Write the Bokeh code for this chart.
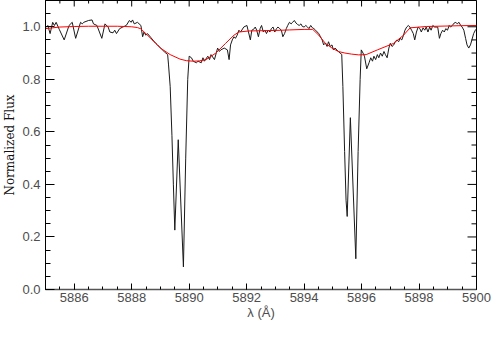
import math
from bokeh.plotting import figure
from bokeh.models import Range1d, FixedTicker, PrintfTickFormatter
from bokeh.embed import file_html
from bokeh.resources import INLINE

# Observed spectrum (wavelength in Angstrom, normalized flux)
wave = [5885.00, 5885.08, 5885.16, 5885.25, 5885.31, 5885.37, 5885.48, 5885.65, 5885.82, 5885.93,
        5886.05, 5886.22, 5886.28, 5886.33, 5886.50, 5886.62, 5886.67, 5886.79, 5886.96, 5887.07,
        5887.18, 5887.24, 5887.35, 5887.41, 5887.47, 5887.58, 5887.69, 5887.81, 5887.92, 5887.98,
        5888.03, 5888.09, 5888.20, 5888.32, 5888.38, 5888.43, 5888.49, 5888.55, 5888.66, 5888.77,
        5888.89, 5889.06, 5889.17, 5889.25, 5889.28, 5889.34, 5889.40, 5889.45, 5889.50, 5889.62,
        5889.80, 5889.88, 5889.95, 5890.00, 5890.08, 5890.14, 5890.25, 5890.31, 5890.42, 5890.48,
        5890.53, 5890.65, 5890.71, 5890.76, 5890.88, 5890.99, 5891.05, 5891.10, 5891.22, 5891.33,
        5891.39, 5891.44, 5891.50, 5891.56, 5891.61, 5891.67, 5891.73, 5891.79, 5891.90, 5892.01,
        5892.13, 5892.18, 5892.24, 5892.30, 5892.35, 5892.41, 5892.47, 5892.52, 5892.58, 5892.64,
        5892.69, 5892.75, 5892.81, 5892.86, 5892.92, 5892.98, 5893.04, 5893.09, 5893.15, 5893.21,
        5893.26, 5893.32, 5893.38, 5893.43, 5893.49, 5893.55, 5893.60, 5893.66, 5893.72, 5893.77,
        5893.83, 5893.89, 5893.94, 5894.00, 5894.06, 5894.12, 5894.17, 5894.23, 5894.29, 5894.34,
        5894.40, 5894.46, 5894.51, 5894.57, 5894.63, 5894.68, 5894.74, 5894.80, 5894.85, 5894.91,
        5894.97, 5895.02, 5895.08, 5895.14, 5895.19, 5895.25, 5895.31, 5895.35, 5895.41, 5895.46,
        5895.50, 5895.61, 5895.80, 5895.88, 5895.95, 5895.99, 5896.05, 5896.10, 5896.18, 5896.26,
        5896.32, 5896.38, 5896.43, 5896.49, 5896.55, 5896.60, 5896.66, 5896.72, 5896.78, 5896.83,
        5896.89, 5896.95, 5897.00, 5897.06, 5897.12, 5897.17, 5897.23, 5897.29, 5897.34, 5897.40,
        5897.46, 5897.51, 5897.57, 5897.63, 5897.68, 5897.74, 5897.80, 5897.85, 5897.91, 5897.97,
        5898.03, 5898.08, 5898.14, 5898.20, 5898.25, 5898.31, 5898.37, 5898.42, 5898.48, 5898.54,
        5898.59, 5898.65, 5898.71, 5898.76, 5898.82, 5898.88, 5898.93, 5898.99, 5899.05, 5899.10,
        5899.16, 5899.22, 5899.28, 5899.33, 5899.39, 5899.45, 5899.50, 5899.56, 5899.62, 5899.67,
        5899.73, 5899.79, 5899.84, 5899.90, 5899.96, 5900.01]

flux = [0.996, 1.005, 0.974, 1.017, 1.005, 1.017, 0.990, 0.950, 1.005, 1.017,
        0.956, 1.017, 1.011, 1.017, 1.024, 1.026, 1.011, 1.005, 0.956, 1.011,
        0.999, 0.980, 0.977, 0.987, 0.974, 0.993, 0.999, 1.005, 1.024, 1.017,
        1.026, 1.011, 1.017, 1.005, 0.962, 0.980, 0.968, 0.974, 0.960, 0.945,
        0.932, 0.913, 0.901, 0.895, 0.858, 0.772, 0.587, 0.401, 0.226, 0.570,
        0.086, 0.500, 0.800, 0.888, 0.882, 0.869, 0.863, 0.869, 0.863, 0.882,
        0.869, 0.888, 0.875, 0.894, 0.875, 0.919, 0.906, 0.912, 0.919, 0.912,
        0.875, 0.931, 0.950, 0.962, 0.956, 0.968, 0.987, 0.980, 0.999, 1.005,
        0.950, 0.987, 0.990, 0.999, 0.987, 0.962, 0.993, 1.005, 0.980, 0.987,
        0.974, 0.987, 0.980, 0.993, 0.999, 0.980, 0.993, 0.999, 0.993, 0.987,
        0.962, 0.974, 0.993, 1.005, 1.017, 1.011, 1.017, 1.024, 1.014, 1.009,
        1.005, 1.011, 1.001, 0.999, 1.005, 0.999, 0.993, 1.005, 0.996, 0.993,
        0.987, 0.980, 0.974, 0.962, 0.950, 0.931, 0.938, 0.925, 0.943, 0.925,
        0.931, 0.912, 0.919, 0.912, 0.906, 0.900, 0.895, 0.772, 0.525, 0.340,
        0.278, 0.654, 0.117, 0.525, 0.800, 0.912, 0.900, 0.888, 0.840, 0.863,
        0.882, 0.869, 0.888, 0.875, 0.894, 0.882, 0.900, 0.888, 0.906, 0.894,
        0.882, 0.919, 0.937, 0.925, 0.931, 0.943, 0.950, 0.943, 0.956, 0.950,
        0.968, 0.987, 0.999, 1.005, 0.999, 0.987, 0.974, 0.950, 0.980, 0.999,
        0.993, 0.980, 0.996, 0.987, 0.999, 0.980, 0.999, 0.987, 1.005, 0.999,
        0.999, 0.999, 0.956, 0.974, 0.987, 0.980, 0.993, 0.987, 1.005, 0.999,
        1.005, 1.014, 1.017, 1.011, 1.017, 1.005, 0.999, 0.987, 0.956, 0.931,
        0.919, 0.931, 0.950, 0.974, 0.987, 0.993]

# Smooth model profile (red)
cont_wave = [5885.0, 5885.5, 5886.0, 5886.5, 5887.0, 5887.5, 5888.0, 5888.2, 5888.32, 5888.53,
             5888.66, 5888.83, 5889.0, 5889.34, 5889.68, 5889.9, 5890.14, 5890.35, 5890.59, 5890.93,
             5891.27, 5891.56, 5891.73, 5892.07, 5892.5, 5893.0, 5893.5, 5894.0, 5894.3, 5894.51,
             5894.74, 5894.97, 5895.19, 5895.42, 5895.65, 5895.9, 5896.16, 5896.55, 5897.12, 5897.46,
             5897.69, 5898.25, 5899.39, 5900.0]
cont_flux = [0.993, 0.999, 1.001, 1.002, 1.002, 1.002, 1.000, 0.997, 0.992, 0.970,
             0.956, 0.937, 0.919, 0.894, 0.877, 0.871, 0.869, 0.870, 0.875, 0.900,
             0.937, 0.968, 0.980, 0.984, 0.985, 0.986, 0.988, 0.990, 0.990, 0.968,
             0.937, 0.919, 0.906, 0.900, 0.896, 0.893, 0.894, 0.912, 0.937, 0.968,
             0.996, 1.001, 1.004, 1.005]

x_major = [5886, 5888, 5890, 5892, 5894, 5896, 5898, 5900]
x_minor = [5885 + 0.5 * i for i in range(31)]
y_major = [0.0, 0.2, 0.4, 0.6, 0.8, 1.0]
y_minor = [0.05 * i for i in range(23)]
X0, X1, Y0, Y1 = 5885, 5900, 0.0, 1.1

p = figure(width=492, height=322, output_backend="svg", toolbar_location=None,
           x_range=Range1d(X0, X1), y_range=Range1d(Y0, Y1),
           min_border_left=34, min_border_right=16, min_border_top=0, min_border_bottom=20)
p.background_fill_color = "white"
p.border_fill_color = "white"
p.outline_line_color = "black"
p.outline_line_width = 1
p.xgrid.visible = False
p.ygrid.visible = False

p.line(wave, flux, line_color="#1a1a1a", line_width=1)
p.line(cont_wave, cont_flux, line_color="#ff0000", line_width=1)

# mirrored tick marks on top and right edges (half of each dash is clipped by the frame)
x_minor_only = [t for t in x_minor if t not in x_major]
y_minor_only = [t for t in y_minor if round(t, 2) not in y_major]
p.scatter(x_major, [Y1] * len(x_major), marker="dash", size=12,
          angle=math.pi / 2, line_color="black", line_width=1)
p.scatter(x_minor_only, [Y1] * len(x_minor_only), marker="dash", size=6,
          angle=math.pi / 2, line_color="black", line_width=1)
p.scatter([X1] * len(y_major), y_major, marker="dash", size=18,
          line_color="black", line_width=1)
p.scatter([X1] * len(y_minor_only), y_minor_only, marker="dash", size=10,
          line_color="black", line_width=1)

tick_font = "Liberation Sans"

xb = p.xaxis[0]
xb.ticker = FixedTicker(ticks=x_major, minor_ticks=x_minor)
xb.major_tick_in = 6
xb.major_tick_out = 0
xb.minor_tick_in = 3
xb.minor_tick_out = 0
xb.major_tick_line_color = "black"
xb.minor_tick_line_color = "black"
xb.axis_line_color = "#555555"
xb.axis_line_width = 1.5
xb.formatter = PrintfTickFormatter(format="%d")
xb.major_label_text_font = tick_font
xb.major_label_text_font_size = "13px"
xb.major_label_text_line_height = 1.0
xb.major_label_text_color = "#4d4d4d"
xb.major_label_standoff = 3
xb.axis_label = "λ (Å)"
xb.axis_label_text_font = tick_font
xb.axis_label_text_font_size = "13px"
xb.axis_label_text_line_height = 1.0
xb.axis_label_text_font_style = "normal"
xb.axis_label_text_color = "#4d4d4d"
xb.axis_label_standoff = 0

yl = p.yaxis[0]
yl.ticker = FixedTicker(ticks=y_major, minor_ticks=y_minor)
yl.major_tick_in = 9
yl.major_tick_out = 0
yl.minor_tick_in = 5
yl.minor_tick_out = 0
yl.major_tick_line_color = "black"
yl.minor_tick_line_color = "black"
yl.axis_line_color = "black"
yl.formatter = PrintfTickFormatter(format="%.1f")
yl.major_label_text_font = tick_font
yl.major_label_text_font_size = "13px"
yl.major_label_text_color = "#4d4d4d"
yl.major_label_standoff = 5
yl.axis_label = "Normalized Flux"
yl.axis_label_text_font = "DejaVu Serif"
yl.axis_label_text_font_size = "12px"
yl.axis_label_text_line_height = 1.0
yl.axis_label_text_font_style = "normal"
yl.axis_label_text_color = "#111111"
yl.axis_label_standoff = 2

open("out.html", "w").write(file_html(p, INLINE))
